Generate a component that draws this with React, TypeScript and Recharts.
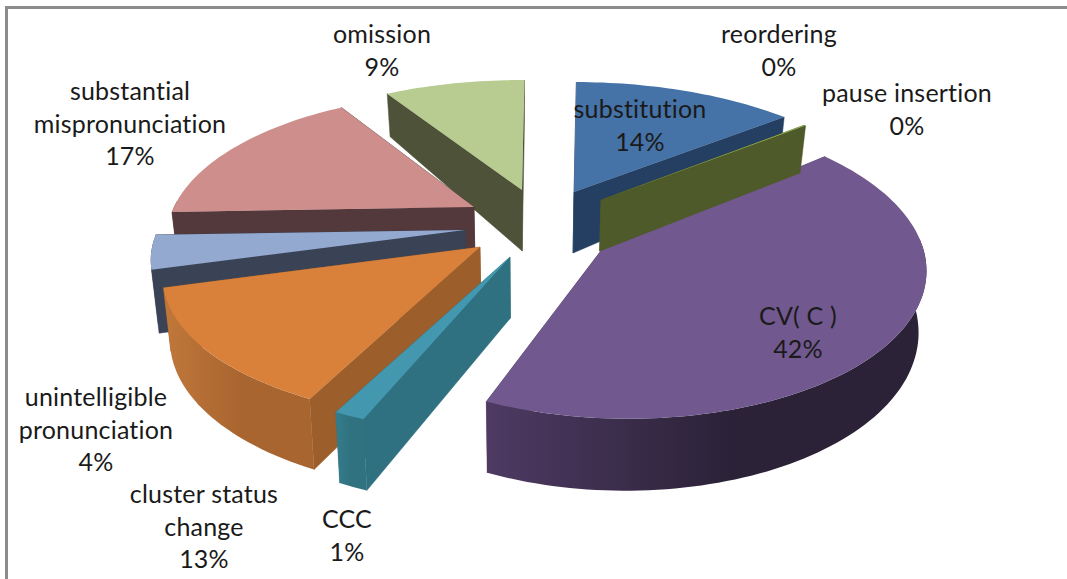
import React from 'react';
import { PieChart, Pie } from 'recharts';

// Data, in the order the slices are painted (counter-clockwise from the substitution slice)
const categories = ['substitution', 'omission', 'substantial mispronunciation', 'unintelligible pronunciation', 'cluster status change', 'CCC', 'CV( C )', 'pause insertion', 'reordering'];
const values = [14, 9, 17, 4, 13.3, 1.3, 42.4, 0.1, 0];
const rows = categories.map((name, i) => ({ name, value: values[i] }));

// Label wrapping
const labelLines = [['substitution'], ['omission'], ['substantial', 'mispronunciation'], ['unintelligible', 'pronunciation'], ['cluster status', 'change'], ['CCC'], ['CV( C )'], ['pause insertion'], ['reordering']];
const labelX = [640, 382, 130, 96, 204, 347, 798, 907, 779];
const labelY = [112, 37, 94, 400, 497, 522, 319, 96, 37];

// Styling
const topColors = ['#4572a7', '#b8cc92', '#ce8e8c', '#93a9cf', '#d9813b', '#4398b0', '#71588f', '#9bbb59', '#9bbb59'];
const wallColors = ['#243f61', '#4d5239', '#53393b', '#3a4356', '#9c5f2c', '#2f7180', '#4e3a63', '#4f5a2b', '#4f5a2b'];
const rimLeft = ['#243f61', '#4d5239', '#53393b', '#3a4356', '#c0773a', '#347c8d', '#4e3a63', '#4f5a2b', '#4f5a2b'];
const rimRight = ['#243f61', '#4d5239', '#53393b', '#3a4356', '#a8652f', '#30727f', '#2b2238', '#4f5a2b', '#4f5a2b'];

// Explosion of each slice from the pie centre, px
const CX = 530;
const CY = 225;
const explodeX = [44, -8, -56, -65, -50, -20, 73, 71, 71];
const explodeY = [-33, -35, -18, 5, 22, 32, 23, -25, -25];
const apexDepth = [61, 61, 61, 61, 61, 61, 61, 51, 51];
// Perspective of the tilted disc, per slice
const spanX = [310, 305, 300, 307, 310, 317, 304, 300, 300];
const spanY = [133.5, 133.5, 138, 133.5, 137, 140, 150, 133.5, 133.5];
const perspDepth = [0.214, 0.214, 0.214, 0.214, 0.214, 0.214, 0.12, 0.214, 0.214];
const perspSide = [0, 0, 0, 0, 0, 0, -0.05, 0, 0];
const skew = [0, 0, 0, 0, 0, 0, 8, 0, 0];

const RAD = Math.PI / 180;
const BOTTOM_SHRINK = 0.02;

function Slice3D(props: any) {
  const { cx, cy, startAngle, endAngle, index } = props;
  const sweep = Math.abs(endAngle - startAngle);
  if (sweep === 0) return <g />;
  const ax = cx + explodeX[index];
  const ay = cy + explodeY[index];
  const hi = ((90 - startAngle) % 360 + 360) % 360;
  const lo = hi - sweep;
  const pt = (deg: number) => {
    const a = deg * RAD;
    const c = Math.cos(a);
    const s = Math.sin(a);
    const den = 1 + perspDepth[index] * c + perspSide[index] * s;
    return {
      x: ax + (spanX[index] * s) / den - skew[index] * c,
      y: ay - (spanY[index] * c) / den,
      z: c > 0 ? 60 - 20 * c : 60 - 12 * c,
    };
  };
  const low = (p: { x: number; y: number; z: number }) => ({ x: p.x - (p.x - cx) * BOTTOM_SHRINK, y: p.y + p.z });
  const steps = Math.max(2, Math.ceil(sweep / 1.5));
  const arc: { x: number; y: number; z: number; deg: number }[] = [];
  for (let i = 0; i <= steps; i++) {
    const deg = lo + (sweep * i) / steps;
    arc.push({ ...pt(deg), deg });
  }
  const fmt = (p: { x: number; y: number }) => `${p.x.toFixed(1)},${p.y.toFixed(1)}`;
  const top = `M${ax},${ay} L${arc.map(fmt).join(' L')} Z`;
  const apexLow = low({ x: ax, y: ay, z: apexDepth[index] });
  const wall = (p: { x: number; y: number; z: number }) =>
    `M${ax},${ay} L${fmt(p)} L${fmt(low(p))} L${fmt(apexLow)} Z`;
  const first = arc[0];
  const last = arc[arc.length - 1];
  const edges = first.y > last.y ? [last, first] : [first, last];
  const front = arc.filter((p) => Math.cos(p.deg * RAD) < 0.06);
  const rim = front.length > 1
    ? `M${front.map(fmt).join(' L')} L${[...front].reverse().map((p) => fmt(low(p))).join(' L')} Z`
    : '';
  const xs = front.map((p) => p.x);
  const gid = `rim-${index}`;
  return (
    <g>
      {edges.map((p, i) => (
        <path key={i} d={wall(p)} fill={wallColors[index]} stroke={wallColors[index]} strokeWidth={0.5} />
      ))}
      {rim && (
        <>
          <defs>
            <linearGradient id={gid} gradientUnits="userSpaceOnUse" x1={Math.min(...xs)} x2={Math.max(...xs) * 0.55 + Math.min(...xs) * 0.45} y1={0} y2={0}>
              <stop offset="0" stopColor={rimLeft[index]} />
              <stop offset="1" stopColor={rimRight[index]} />
            </linearGradient>
          </defs>
          <path d={rim} fill={`url(#${gid})`} />
        </>
      )}
      <path d={top} fill={topColors[index]} />
    </g>
  );
}

function SliceLabel(props: any) {
  const { index, value } = props;
  const lines = [...labelLines[index], `${Math.round(value)}%`];
  return (
    <text x={labelX[index]} y={labelY[index]} textAnchor="middle" fontFamily="Lato, 'Open Sans', sans-serif" fontSize={25} letterSpacing={0.2} fill="#1a1a1a">
      {lines.map((t, i) => (
        <tspan key={i} x={labelX[index]} y={labelY[index] + i * 32.5} dominantBaseline="middle">{t}</tspan>
      ))}
    </text>
  );
}

export default function App() {
  return (
    <div style={{ position: 'absolute', left: 0, top: 0, width: 1067, height: 579, background: '#fff', overflow: 'hidden' }}>
      <div style={{ position: 'absolute', left: 5, top: 6, width: 3, height: 573, background: '#8c8c8c' }} />
      <div style={{ position: 'absolute', left: 5, top: 6, width: 1062, height: 3, background: '#8c8c8c' }} />
      <PieChart width={1067} height={579} margin={{ top: 0, right: 0, bottom: 0, left: 0 }}>
        <Pie
          data={rows}
          dataKey="value"
          nameKey="name"
          cx={CX}
          cy={CY}
          innerRadius={0}
          outerRadius={320}
          startAngle={39.6}
          endAngle={399.6}
          stroke="none"
          isAnimationActive={false}
          shape={Slice3D}
          label={SliceLabel}
          labelLine={false}
        />
      </PieChart>
    </div>
  );
}
